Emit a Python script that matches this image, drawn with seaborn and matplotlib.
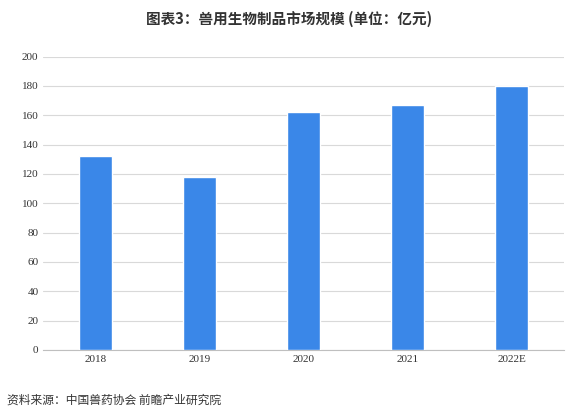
import matplotlib.pyplot as plt
import seaborn as sns

years = ['2018', '2019', '2020', '2021', '2022E']
values = [132, 118, 162, 167, 180]

sns.set_style('white')
plt.rcParams['font.family'] = ['Noto Sans CJK SC', 'DejaVu Sans']

fig = plt.figure(figsize=(5.78, 4.19), dpi=100)
ax = fig.add_axes([0.075, 0.165, 0.9, 0.70])
sns.barplot(x=years, y=values, color='#3a87e8', saturation=1, width=0.32, ax=ax, zorder=3)
ax.set_ylim(0, 200)
ax.set_yticks(range(0, 201, 20))
ax.yaxis.grid(True, color='#d9d9d9', linewidth=0.8, zorder=0)
for s in ['top', 'right', 'left']:
    ax.spines[s].set_visible(False)
ax.spines['bottom'].set_color('#bfbfbf')
ax.tick_params(axis='both', labelsize=8, length=0, colors='#333333')
for lbl in ax.get_xticklabels() + ax.get_yticklabels():
    lbl.set_family(['Liberation Serif', 'DejaVu Serif'])

fig.text(0.5, 0.955, '图表3：兽用生物制品市场规模 (单位：亿元)', ha='center', va='center',
         fontsize=10.5, fontweight='bold', color='#333333')
fig.text(0.012, 0.045, '资料来源：中国兽药协会 前瞻产业研究院', ha='left', va='center',
         fontsize=8.5, color='#333333')

fig.savefig('out.png', dpi=100)
plt.close()
